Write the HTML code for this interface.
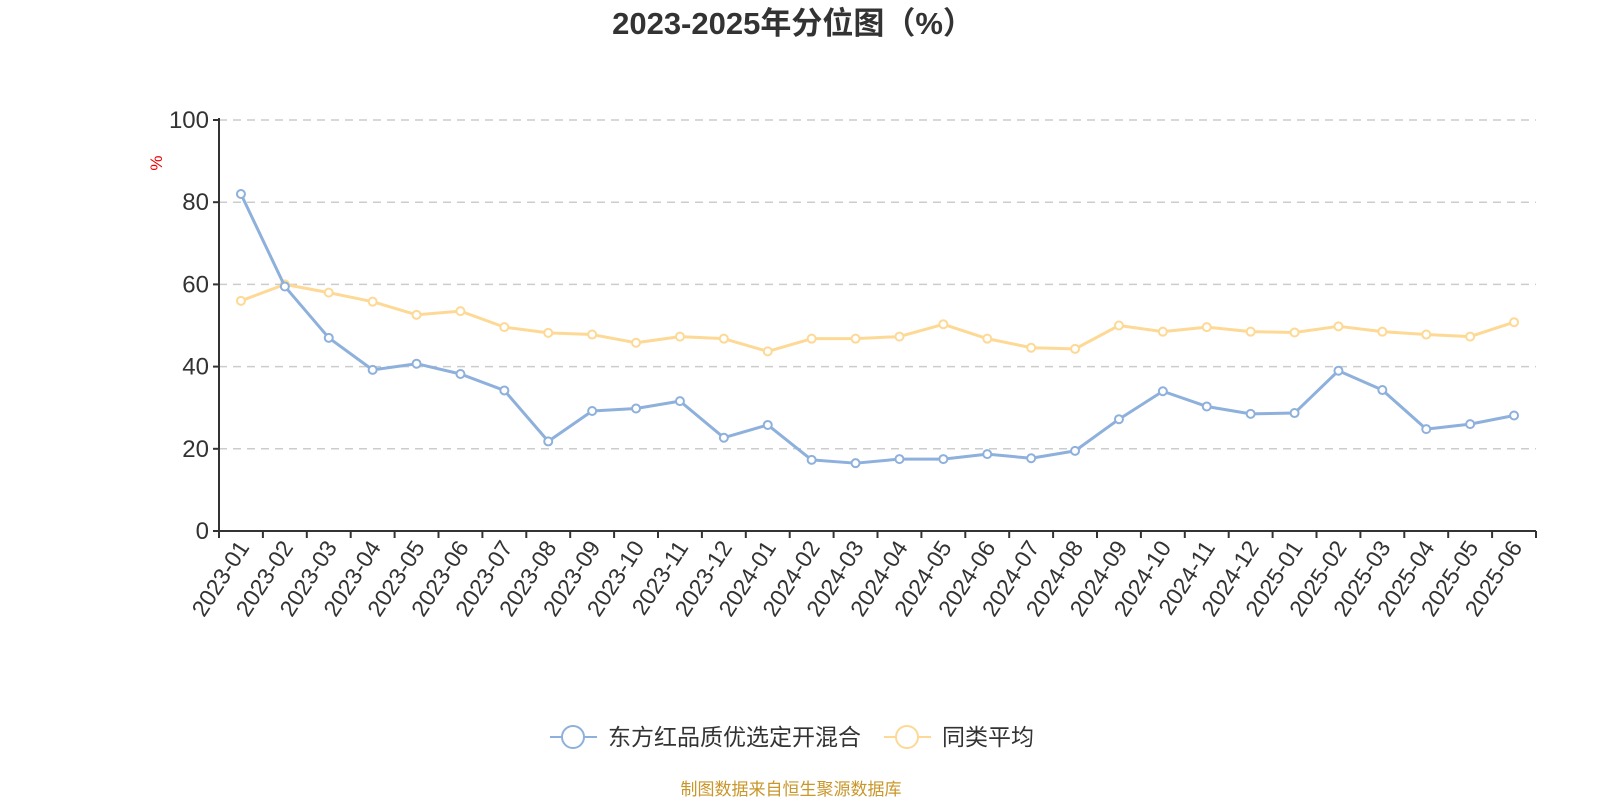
<!DOCTYPE html>
<html><head><meta charset="utf-8"><style>
body{margin:0;background:#fff;}
svg{display:block;font-family:"Liberation Sans","Noto Sans CJK SC",sans-serif;}
</style></head><body>
<svg id="c" width="1600" height="800" viewBox="0 0 1600 800">
<text x="793" y="34" text-anchor="middle" font-size="31" font-weight="bold" fill="#333">2023-2025年分位图（%）</text>
<text x="0" y="0" transform="translate(162,163) rotate(-90)" text-anchor="middle" font-size="17" fill="#e00">%</text>
<g id="grid"></g><g id="axes"></g><g id="series"></g>
<g>
<g>
<line x1="550" y1="737" x2="597" y2="737" stroke="#8eb0dc" stroke-width="2"/>
<circle cx="573" cy="737" r="11" fill="#fff" stroke="#8eb0dc" stroke-width="2"/>
<text x="608" y="745" font-size="23" fill="#333">东方红品质优选定开混合</text></g>
<g>
<line x1="884" y1="737" x2="931" y2="737" stroke="#fdd995" stroke-width="2"/>
<circle cx="907" cy="737" r="11" fill="#fff" stroke="#fdd995" stroke-width="2"/>
<text x="942" y="745" font-size="23" fill="#333">同类平均</text></g>
</g>
<text x="791" y="795" text-anchor="middle" font-size="17" fill="#c9962a">制图数据来自恒生聚源数据库</text>
</svg>
<script>
const categories=["2023-01","2023-02","2023-03","2023-04","2023-05","2023-06","2023-07","2023-08","2023-09","2023-10","2023-11","2023-12","2024-01","2024-02","2024-03","2024-04","2024-05","2024-06","2024-07","2024-08","2024-09","2024-10","2024-11","2024-12","2025-01","2025-02","2025-03","2025-04","2025-05","2025-06"];
const fundValues=[82,59.5,47,39.2,40.7,38.2,34.2,21.8,29.2,29.8,31.6,22.7,25.8,17.3,16.5,17.5,17.5,18.7,17.7,19.5,27.2,34,30.3,28.5,28.7,39,34.3,24.8,26,28.1];
const avgValues=[56,60,58,55.8,52.6,53.5,49.6,48.2,47.8,45.8,47.3,46.8,43.7,46.8,46.8,47.3,50.3,46.8,44.6,44.3,50,48.5,49.6,48.5,48.3,49.8,48.5,47.8,47.3,50.8];
const yTicks=[0,20,40,60,80,100];
const NS="http://www.w3.org/2000/svg";
const L=219,R=1536,T=120,B=531;
const bw=(R-L)/categories.length;
const xs=i=>L+bw*(i+0.5);
const ys=v=>B-(v/100)*(B-T);
function mk(p,t,a){const e=document.createElementNS(NS,t);for(const k in a)e.setAttribute(k,a[k]);p.appendChild(e);return e;}
const grid=document.getElementById('grid'),axes=document.getElementById('axes'),series=document.getElementById('series');
yTicks.forEach(v=>{
 if(v>0){const g=mk(grid,'line',{x1:L,x2:R,y1:ys(v),y2:ys(v),stroke:'#ccc','stroke-width':1.5,'stroke-dasharray':'8,6'});
 
 }
 const tk=mk(axes,'line',{x1:L-6,x2:L,y1:ys(v),y2:ys(v),stroke:'#333','stroke-width':2});
 
 
 const t=mk(axes,'text',{x:L-10,y:ys(v)+8,'text-anchor':'end','font-size':24,fill:'#333'});
 t.textContent=v;
 
 
});
const ya=mk(axes,'line',{x1:L,x2:L,y1:T-2,y2:B,stroke:'#333','stroke-width':2});


const xa=mk(axes,'line',{x1:L-6,x2:R,y1:B,y2:B,stroke:'#333','stroke-width':2});


for(let i=0;i<=categories.length;i++){
 const tk=mk(axes,'line',{x1:L+bw*i,x2:L+bw*i,y1:B,y2:B+7,stroke:'#333','stroke-width':2});
 
 
}
categories.forEach((c,i)=>{
 const x=xs(i)+4,y=B+13;
 const t=mk(axes,'text',{x:x,y:y,'text-anchor':'end','font-size':23,fill:'#333',transform:`rotate(-57 ${x} ${y})`,'dominant-baseline':'middle'});
 t.textContent=c;
 
 
});
function draw(vals,color,name){
 const g=mk(series,'g',{});
 
 
 const pl=mk(g,'polyline',{points:vals.map((v,i)=>xs(i)+','+ys(v)).join(' '),fill:'none',stroke:color,'stroke-width':3,'stroke-linejoin':'round'});
 
 
 vals.forEach((v,i)=>{
  const c=mk(g,'circle',{cx:xs(i),cy:ys(v),r:4,fill:'#fff',stroke:color,'stroke-width':2});
  
  
 });
}
draw(avgValues,'#fdd995','average-series');
draw(fundValues,'#8eb0dc','fund-series');
</script>
</body></html>
